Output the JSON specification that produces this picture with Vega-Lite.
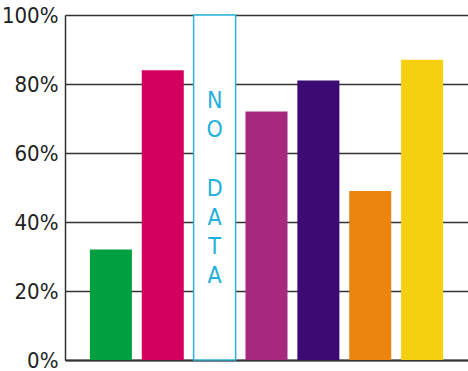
{
  "$schema": "https://vega.github.io/schema/vega-lite/v6.json",
  "width": 403,
  "height": 345,
  "autosize": {"type": "none"},
  "padding": {"left": 65, "top": 15, "right": 0, "bottom": 11},
  "config": {"view": {"stroke": null}, "font": "'DejaVu Sans Condensed', Roboto, sans-serif"},
  "data": {
    "values": [
      {"cat": "A", "value": 0.32},
      {"cat": "B", "value": 0.84},
      {"cat": "NO DATA", "value": 1.0},
      {"cat": "D", "value": 0.72},
      {"cat": "E", "value": 0.81},
      {"cat": "F", "value": 0.49},
      {"cat": "G", "value": 0.87}
    ]
  },
  "encoding": {
    "x": {
      "field": "cat",
      "type": "nominal",
      "sort": null,
      "scale": {"paddingInner": 0.19, "paddingOuter": 0.48},
      "axis": {"labels": false, "ticks": false, "title": null, "domain": true, "domainColor": "#333", "domainWidth": 2}
    }
  },
  "layer": [
    {
      "mark": {"type": "bar", "strokeWidth": 1.5},
      "encoding": {
        "y": {
          "field": "value",
          "type": "quantitative",
          "scale": {"domain": [0, 1]},
          "axis": {
            "title": null,
            "format": ".0%",
            "values": [0, 0.2, 0.4, 0.6, 0.8, 1],
            "labelFontSize": 22,
            "labelColor": "#222",
            "labelPadding": 7,
            "labelFont": "'DejaVu Sans Condensed', Roboto, sans-serif",
            "ticks": false,
            "grid": true,
            "gridColor": "#333",
            "gridWidth": 1.5,
            "domain": true,
            "domainColor": "#333",
            "domainWidth": 1.5
          }
        },
        "fill": {
          "field": "cat",
          "type": "nominal",
          "scale": {
            "domain": ["A", "B", "NO DATA", "D", "E", "F", "G"],
            "range": ["#00A040", "#D4005F", "#FFFFFF", "#A6287F", "#3C0A73", "#EC8410", "#F6D010"]
          },
          "legend": null
        },
        "stroke": {
          "condition": {"test": "datum.cat === 'NO DATA'", "value": "#29B5D8"},
          "value": null
        }
      }
    },
    {
      "transform": [{"filter": "datum.cat === 'NO DATA'"}],
      "mark": {
        "type": "text",
        "text": ["N", "O"],
        "lineHeight": 29,
        "fontSize": 23,
        "font": "'DejaVu Sans Condensed', Roboto, sans-serif",
        "color": "#1FB0DC",
        "align": "center",
        "baseline": "middle"
      },
      "encoding": {
        "y": {"datum": 0.751, "type": "quantitative"}
      }
    },
    {
      "transform": [{"filter": "datum.cat === 'NO DATA'"}],
      "mark": {
        "type": "text",
        "text": ["D", "A", "T", "A"],
        "lineHeight": 29,
        "fontSize": 23,
        "font": "'DejaVu Sans Condensed', Roboto, sans-serif",
        "color": "#1FB0DC",
        "align": "center",
        "baseline": "middle"
      },
      "encoding": {
        "y": {"datum": 0.496, "type": "quantitative"}
      }
    }
  ]
}
